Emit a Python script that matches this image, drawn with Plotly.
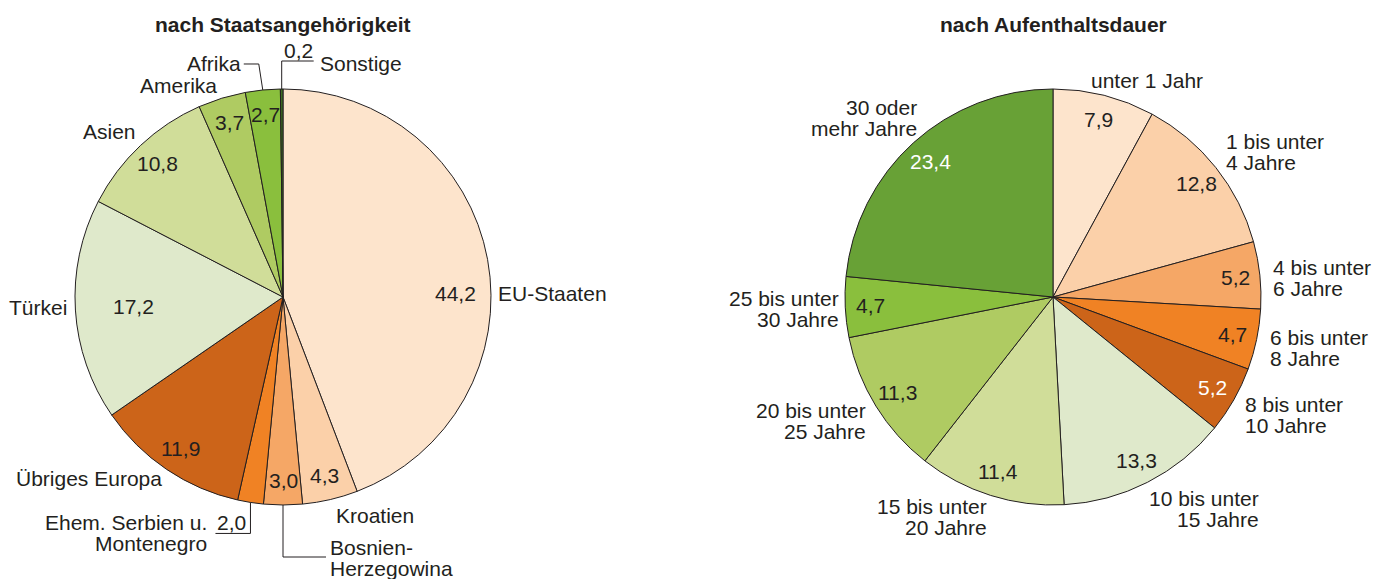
import math
import plotly.graph_objects as go

# ---------------- data ----------------
nat_labels = ["EU-Staaten", "Kroatien", "Bosnien-Herzegowina", "Ehem. Serbien u. Montenegro",
              "Übriges Europa", "Türkei", "Asien", "Amerika", "Afrika", "Sonstige"]
nat_values = [44.2, 4.3, 3.0, 2.0, 11.9, 17.2, 10.8, 3.7, 2.7, 0.2]
nat_colors = ["#FDE4CC", "#FBD0A9", "#F5A766", "#F08224", "#CC6419",
              "#DFE9CB", "#D0DD99", "#AFCB62", "#8ABF3D", "#3C6B23"]

dur_labels = ["unter 1 Jahr", "1 bis unter 4 Jahre", "4 bis unter 6 Jahre", "6 bis unter 8 Jahre",
              "8 bis unter 10 Jahre", "10 bis unter 15 Jahre", "15 bis unter 20 Jahre",
              "20 bis unter 25 Jahre", "25 bis unter 30 Jahre", "30 oder mehr Jahre"]
dur_lines = [["unter 1 Jahr"], ["1 bis unter", "4 Jahre"], ["4 bis unter", "6 Jahre"],
             ["6 bis unter", "8 Jahre"], ["8 bis unter", "10 Jahre"], ["10 bis unter", "15 Jahre"],
             ["15 bis unter", "20 Jahre"], ["20 bis unter", "25 Jahre"], ["25 bis unter", "30 Jahre"],
             ["30 oder", "mehr Jahre"]]
dur_values = [7.9, 12.8, 5.2, 4.7, 5.2, 13.3, 11.4, 11.3, 4.7, 23.4]
dur_colors = ["#FDE4CC", "#FBD0A9", "#F5A766", "#F08224", "#CC6419",
              "#DFE9CB", "#D0DD99", "#AFCB62", "#8ABF3D", "#68A136"]

titles = ["nach Staatsangehörigkeit", "nach Aufenthaltsdauer"]

# ---------------- layout geometry ----------------
W, H = 1373, 579
R = 208
C1 = (283, 297)
C2 = (1053, 297)
TXT = "#231F20"
FONT = "Liberation Sans, Arial, Helvetica, sans-serif"
FS = 21
LH = 21


def px(x):
    return x / W


def py(y):
    return 1 - y / H


def domain(c):
    return dict(x=[px(c[0] - R), px(c[0] + R)], y=[py(c[1] + R), py(c[1] - R)])


def mid_angles(values):
    tot = sum(values)
    out, cum = [], 0
    for v in values:
        out.append((cum + v / 2) / tot * 360)
        cum += v
    return out


def polar(c, ang, r):
    a = math.radians(ang)
    return c[0] + r * math.sin(a), c[1] - r * math.cos(a)


def fmt(v):
    return f"{v:.1f}".replace(".", ",")


fig = go.Figure()
for c, labs, vals, cols in [(C1, nat_labels, nat_values, nat_colors),
                            (C2, dur_labels, dur_values, dur_colors)]:
    fig.add_trace(go.Pie(labels=labs, values=vals, sort=False, direction="clockwise",
                         rotation=0, domain=domain(c), textinfo="none", hoverinfo="label+value",
                         marker=dict(colors=cols, line=dict(color=TXT, width=1)),
                         showlegend=False))

ann = []
shapes = []


def text(x, y, s, xa="center", color=TXT, bold=False, size=FS):
    ann.append(dict(x=px(x), y=py(y), xref="paper", yref="paper", text=f"<b>{s}</b>" if bold else s,
                    showarrow=False, xanchor=xa, yanchor="middle",
                    font=dict(family=FONT, size=size, color=color), borderpad=0))


def line(pts):
    path = "M " + " L ".join(f"{px(x)},{py(y)}" for x, y in pts)
    shapes.append(dict(type="path", path=path, xref="paper", yref="paper",
                       line=dict(color=TXT, width=1)))


# titles
text(C1[0], 24, titles[0], bold=True)
text(C2[0], 24, titles[1], bold=True)

# ---------- left pie labels ----------
ang1 = mid_angles(nat_values)
val_override = {0: (89, 0.83), 5: (ang1[5], 0.72)}
for i, v in enumerate(nat_values):
    if i in (3, 9):
        continue
    a, rf = val_override.get(i, (ang1[i], 0.88))
    x, y = polar(C1, a, rf * R)
    text(x, y, fmt(v))

# category labels (offset from rim point)
lab_place = {0: ("left", 6, 0, 89), 1: ("left", 5, 16, None), 4: ("right", -4, 9, None),
             5: ("right", -7, -3, None), 6: ("right", -4, -14, None), 7: ("right", -4, -13, None)}
for i, (xa, dx, dy, aover) in lab_place.items():
    a = aover if aover is not None else ang1[i]
    ex, ey = polar(C1, a, R)
    text(ex + dx, ey + dy, nat_labels[i], xa=xa)

# Bosnien-Herzegowina with leader
ex, ey = polar(C1, ang1[2], R)
line([(ex, ey), (ex, ey + 52), (ex + 43, ey + 52)])
text(ex + 46, ey + 42, "Bosnien-", xa="left")
text(ex + 46, ey + 42 + LH, "Herzegowina", xa="left")

# Ehem. Serbien u. Montenegro with leader
ex, ey = polar(C1, ang1[3], R)
line([(ex, ey), (ex, ey + 31), (ex - 35, ey + 31)])
text(ex - 3, ey + 20, fmt(nat_values[3]), xa="right")
text(ex - 42, ey + 20, "Ehem. Serbien u.", xa="right")
text(ex - 42, ey + 20 + LH, "Montenegro", xa="right")

# Afrika with leader
ex, ey = polar(C1, ang1[8], R)
line([(ex, ey), (ex - 4, ey - 26), (ex - 19, ey - 26)])
text(ex - 21, ey - 26, nat_labels[8], xa="right")

# Sonstige with leader
ex, ey = polar(C1, ang1[9], R)
line([(ex, ey), (ex, ey - 28), (ex + 32, ey - 28)])
text(ex + 17, ey - 39, fmt(nat_values[9]))
text(ex + 37, ey - 26, nat_labels[9], xa="left")

# ---------- right pie labels ----------
ang2 = mid_angles(dur_values)
white = {4, 9}
for i, v in enumerate(dur_values):
    x, y = polar(C2, ang2[i], 0.88 * R)
    text(x, y, fmt(v), color="white" if i in white else TXT)

dur_place = [("left", -14, -15), ("left", 9, -26), ("left", 12, -8), ("left", 12, -2),
             ("left", 10, 5), ("right", 112, 16), ("right", -3, 11), ("right", -9, 4),
             ("right", -5, -9), ("right", 5, -35)]
for i, (xa, dx, dy) in enumerate(dur_place):
    ex, ey = polar(C2, ang2[i], R)
    for k, s in enumerate(dur_lines[i]):
        text(ex + dx, ey + dy + k * LH, s, xa=xa)

fig.update_layout(width=W, height=H, margin=dict(l=0, r=0, t=0, b=0),
                  paper_bgcolor="white", plot_bgcolor="white",
                  annotations=ann, shapes=shapes, showlegend=False)
fig.write_html("out.html", config={"displayModeBar": False},
               post_script="document.body.style.margin='0';document.body.style.overflow='hidden';")
